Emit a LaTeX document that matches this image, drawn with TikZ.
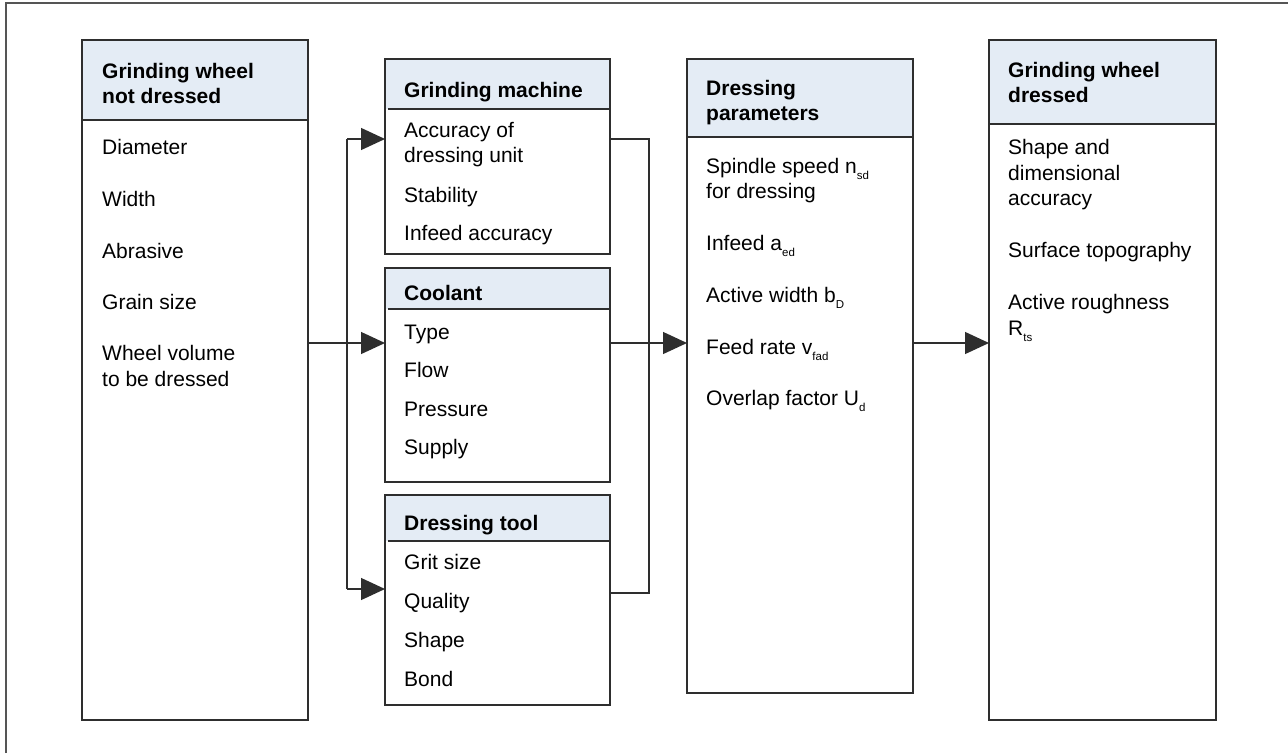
\documentclass[tikz,border=0pt]{standalone}
\usepackage{fontspec}
\setmainfont{Liberation Sans}
\usetikzlibrary{arrows.meta}
\definecolor{hdrcol}{HTML}{E4ECF5}
\definecolor{linecol}{HTML}{2E2E2E}
\definecolor{framecol}{HTML}{555555}
\newcommand{\fs}{\fontsize{21}{25}\selectfont}
\newcommand{\sbs}[1]{\raisebox{-6.5pt}{\fontsize{11.5}{12}\selectfont #1}}
\begin{document}
\begin{tikzpicture}[x=1pt,y=-1pt,
  box/.style={draw=linecol, line width=1.4pt, inner sep=0pt, outer sep=0pt, anchor=north west},
  hdrfill/.style={fill=hdrcol},
  divider/.style={draw=linecol, line width=1.4pt},
  txt/.style={anchor=base west, inner sep=0pt, font=\fs},
  htxt/.style={anchor=base west, inner sep=0pt, font=\fs\bfseries},
  con/.style={draw=linecol, line width=1.3pt},
  arr/.style={draw=linecol, line width=1.3pt, -{Triangle[length=24pt,width=22pt]}}
]
\useasboundingbox (0,0) rectangle (1288,753);
\fill[white] (0,0) rectangle (1288,753);
% outer frame (only top and left visible)
\draw[framecol, line width=1.2pt] (6,753) -- (6,3) -- (1288,3);

% header fills
\fill[hdrfill] (82,40) rectangle (308,120);
\fill[hdrfill] (385,59) rectangle (610,109);
\fill[hdrfill] (385,268) rectangle (610,309);
\fill[hdrfill] (385,495) rectangle (610,541);
\fill[hdrfill] (687,59) rectangle (913,137);
\fill[hdrfill] (989,40) rectangle (1216,124);

% boxes
\node[box, minimum width=226pt, minimum height=680pt] (b1) at (82,40) {};
\node[box, minimum width=225pt, minimum height=195pt] (gm) at (385,59) {};
\node[box, minimum width=225pt, minimum height=214pt] (cl) at (385,268) {};
\node[box, minimum width=225pt, minimum height=210pt] (dt) at (385,495) {};
\node[box, minimum width=226pt, minimum height=634pt] (dp) at (687,59) {};
\node[box, minimum width=227pt, minimum height=680pt] (b4) at (989,40) {};

% dividers
\draw[divider] (b1.west |- 0,120) -- (b1.east |- 0,120);
\draw[divider] ([xshift=3pt]gm.west |- 0,109) -- (gm.east |- 0,109);
\draw[divider] ([xshift=3pt]cl.west |- 0,309) -- (cl.east |- 0,309);
\draw[divider] ([xshift=3pt]dt.west |- 0,541) -- (dt.east |- 0,541);
\draw[divider] (dp.west |- 0,137) -- (dp.east |- 0,137);
\draw[divider] (b4.west |- 0,124) -- (b4.east |- 0,124);

% box 1 texts
\node[htxt] (b1h1) at (102,78) {Grinding wheel};
\node[htxt] (b1h2) at (102,103) {not dressed};
\node[txt] (b1t1) at (102,154) {Diameter};
\node[txt] (b1t2) at (102,206) {Width};
\node[txt] (b1t3) at (102,258) {Abrasive};
\node[txt] (b1t4) at (102,309) {Grain size};
\node[txt] (b1t5) at (102,360) {Wheel volume};
\node[txt] (b1t6) at (102,386) {to be dressed};

% grinding machine
\node[htxt] (gmh) at (404,97) {Grinding machine};
\node[txt] (gmt1) at (404,137) {Accuracy of};
\node[txt] (gmt2) at (404,162) {dressing unit};
\node[txt] (gmt3) at (404,202) {Stability};
\node[txt] (gmt4) at (404,240) {Infeed accuracy};

% coolant
\node[htxt] (clh) at (404,300) {Coolant};
\node[txt] (clt1) at (404,339) {Type};
\node[txt] (clt2) at (404,377) {Flow};
\node[txt] (clt3) at (404,416) {Pressure};
\node[txt] (clt4) at (404,454) {Supply};

% dressing tool
\node[htxt] (dth) at (404,530) {Dressing tool};
\node[txt] (dtt1) at (404,569) {Grit size};
\node[txt] (dtt2) at (404,608) {Quality};
\node[txt] (dtt3) at (404,647) {Shape};
\node[txt] (dtt4) at (404,686) {Bond};

% dressing parameters
\node[htxt] (dph1) at (706,95) {Dressing};
\node[htxt] (dph2) at (706,120) {parameters};
\node[txt] (dpt1) at (706,173) {Spindle speed n\sbs{sd}};
\node[txt] (dpt2) at (706,198) {for dressing};
\node[txt] (dpt3) at (706,250) {Infeed a\sbs{ed}};
\node[txt] (dpt4) at (706,302) {Active width b\sbs{D}};
\node[txt] (dpt5) at (706,354) {Feed rate v\sbs{fad}};
\node[txt] (dpt6) at (706,405) {Overlap factor U\sbs{d}};

% grinding wheel dressed
\node[htxt] (b4h1) at (1008,77) {Grinding wheel};
\node[htxt] (b4h2) at (1008,102) {dressed};
\node[txt] (b4t1) at (1008,154) {Shape and};
\node[txt] (b4t2) at (1008,180) {dimensional};
\node[txt] (b4t3) at (1008,205) {accuracy};
\node[txt] (b4t4) at (1008,257) {Surface topography};
\node[txt] (b4t5) at (1008,309) {Active roughness};
\node[txt] (b4t6) at (1008,335) {R\sbs{ts}};

% connectors
\coordinate (ymid) at (0,343);
\coordinate (ygm) at (0,139);
\coordinate (ydt) at (0,589);
\coordinate (yret) at (0,593);
\coordinate (lbus) at (347,0);
\coordinate (rbus) at (649,0);

\draw[arr] (b1.east |- ymid) -- (cl.west |- ymid);
\draw[con] (lbus |- ygm) -- (lbus |- ydt);
\draw[arr] (lbus |- ygm) -- (gm.west |- ygm);
\draw[arr] (lbus |- ydt) -- (dt.west |- ydt);
\draw[con] (gm.east |- ygm) -- (rbus |- ygm) -- (rbus |- yret) -- (dt.east |- yret);
\draw[arr] (cl.east |- ymid) -- (dp.west |- ymid);
\draw[arr] (dp.east |- ymid) -- (b4.west |- ymid);
\end{tikzpicture}
\end{document}
